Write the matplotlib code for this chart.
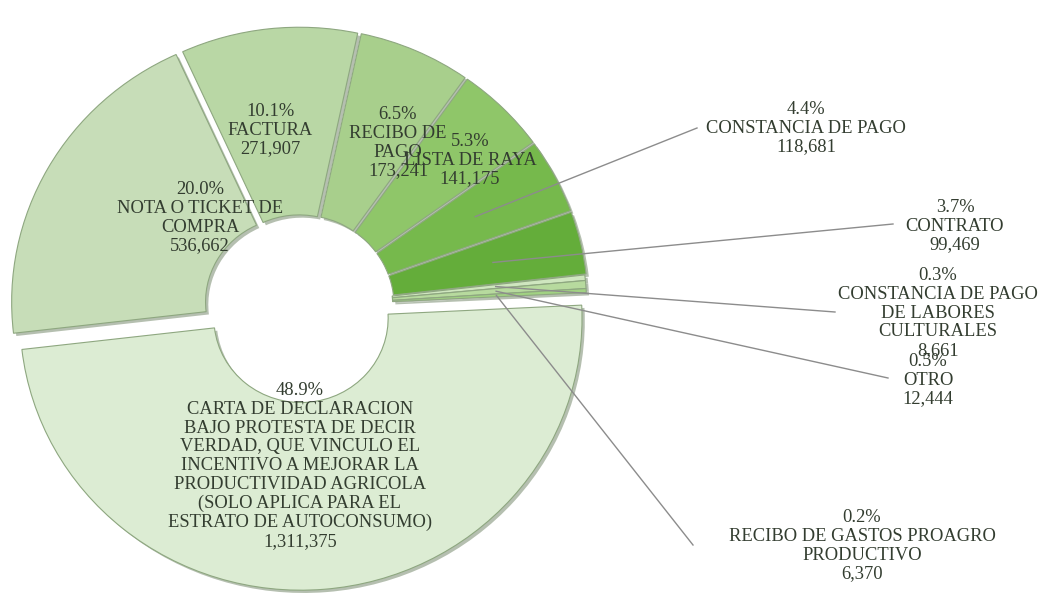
import matplotlib.pyplot as plt
import matplotlib.patheffects as pe
import numpy as np

# Data (clockwise order, starting at the left side)
categories = [
    "NOTA O TICKET DE\nCOMPRA",
    "FACTURA",
    "RECIBO DE\nPAGO",
    "LISTA DE RAYA",
    "CONSTANCIA DE PAGO",
    "CONTRATO",
    "CONSTANCIA DE PAGO\nDE LABORES\nCULTURALES",
    "OTRO",
    "RECIBO DE GASTOS PROAGRO\nPRODUCTIVO",
    "CARTA DE DECLARACION\nBAJO PROTESTA DE DECIR\nVERDAD, QUE VINCULO EL\n"
    "INCENTIVO A MEJORAR LA\nPRODUCTIVIDAD AGRICOLA\n(SOLO APLICA PARA EL\n"
    "ESTRATO DE AUTOCONSUMO)",
]
values = [536662, 271907, 173241, 141175, 118681, 99469, 8661, 12444, 6370, 1311375]
colors = ["#c7ddb8", "#b9d7a5", "#a8cf8c", "#8fc669", "#76b94c", "#64ad3a",
          "#cfe6bf", "#b7da9e", "#a1d282", "#dcecd3"]
explode = [0.03, 0.025, 0.025, 0.025, 0.025, 0.025, 0.02, 0.02, 0.02, 0.045]

# label placement in pixels (inside labels: centre of text; outside: text centre + leader end)
inside_pos = {0: (200, 218), 1: (270, 130), 2: (398, 143), 3: (470, 160), 9: (300, 466)}
outside_pos = {4: ((806, 128), (697, 128)),
               5: ((955, 226), (893, 224)),
               6: ((938, 313), (835, 312)),
               7: ((928, 380), (888, 378)),
               8: ((862, 546), (693, 545))}

W, H = 1042, 600
CX, CY = 300, 306
RX, RY = 281, 272  # source image is slightly stretched horizontally


def px(x, y):
    return (x - CX) / RX, (CY - y) / RY


fig = plt.figure(figsize=(W / 100, H / 100), dpi=100)
ax = fig.add_axes([0, 0, 1, 1])

wedges, _ = ax.pie(values, colors=colors, explode=explode, startangle=186.6,
                   counterclock=False, radius=1,
                   wedgeprops=dict(width=0.69, edgecolor="#8ea780", linewidth=0.8))
for w in wedges:
    w.set_path_effects([pe.SimplePatchShadow(offset=(2, -2), shadow_rgbFace="#5c7350", alpha=0.45),
                        pe.Normal()])

ax.set_xlim(-CX / RX, (W - CX) / RX)
ax.set_ylim(-(H - CY) / RY, CY / RY)
ax.set_aspect("auto")
ax.axis("off")

total = sum(values)
txt = dict(ha="center", va="center", fontsize=13.3, family="Liberation Serif",
           color="#333d30", linespacing=1.13)


def label(i):
    return f"{values[i] / total * 100:.1f}%\n{categories[i]}\n{values[i]:,}"


for i, (x, y) in inside_pos.items():
    ax.text(*px(x, y), label(i), zorder=5, **txt)

for i, ((tx, ty), (lx, ly)) in outside_pos.items():
    w = wedges[i]
    mid = np.deg2rad((w.theta1 + w.theta2) / 2)
    cx, cy = w.center
    sx, sy = cx + 0.68 * np.cos(mid), cy + 0.68 * np.sin(mid)
    ex, ey = px(lx, ly)
    ax.plot([sx, ex], [sy, ey], color="#8c8c8c", lw=1, zorder=4)
    ax.text(*px(tx, ty), label(i), zorder=5, **txt)

fig.savefig("out.png", dpi=100, facecolor="white")
